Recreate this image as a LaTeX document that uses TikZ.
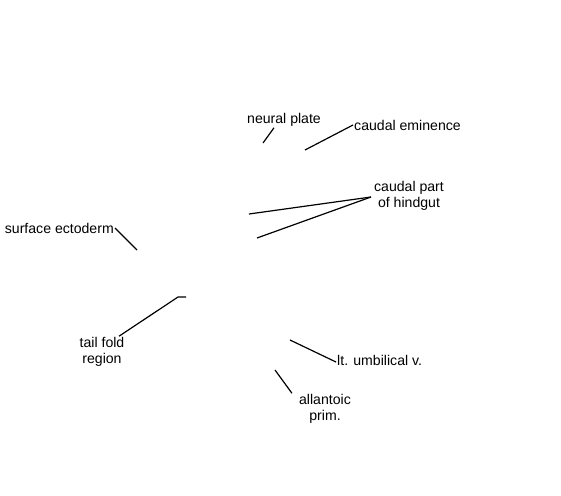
\documentclass[tikz,border=0pt]{standalone}
\usepackage{fontspec}
\setmainfont{Liberation Sans}
\usetikzlibrary{positioning}

\begin{document}
\begin{tikzpicture}[x=1pt,y=-1pt,
  lbl/.style={font=\fontsize{14.1}{16}\selectfont,inner sep=1pt,align=center},
  lead/.style={line width=1.2pt}]
\useasboundingbox (0,0) rectangle (561,495);
\node[lbl] (neuPl) at (284,120) {neural plate};
\node[lbl,anchor=west] (caudEm) at (353,125) {caudal eminence};
\node[lbl] (caudHg) at (409,196) {caudal part\\of hindgut};
\node[lbl,anchor=east] (surfEct) at (115,228) {surface ectoderm};
\node[lbl] (tailFd) at (102,352) {tail fold\\region};
\node[lbl,anchor=west] (umbV) at (336,360) {lt. umbilical v.};
\node[lbl] (allPr) at (325,409) {allantoic\\prim.};
\coordinate (np) at (263,143);
\coordinate (ce) at (305,150);
\coordinate (hg1) at (249,214);
\coordinate (hg2) at (257,238);
\coordinate (hgJ) at (371,197);
\coordinate (se) at (137,250);
\coordinate (tfA) at (178,297);
\coordinate (tfB) at (186,297);
\coordinate (uv) at (290,340);
\coordinate (ap) at (275,370);
\draw[lead] ([xshift=-10pt]neuPl.south) -- (np);
\draw[lead] (caudEm.west) -- (ce);
\draw[lead] (hgJ) -- (hg1);
\draw[lead] (hgJ) -- (hg2);
\draw[lead] (surfEct.east) -- (se);
\draw[lead] ([xshift=17pt]tailFd.north) -- (tfA) -- (tfB);
\draw[lead] ([yshift=-2pt]umbV.west) -- (uv);
\draw[lead] ([xshift=-6pt]allPr.north west) -- (ap);
\end{tikzpicture}
\end{document}
